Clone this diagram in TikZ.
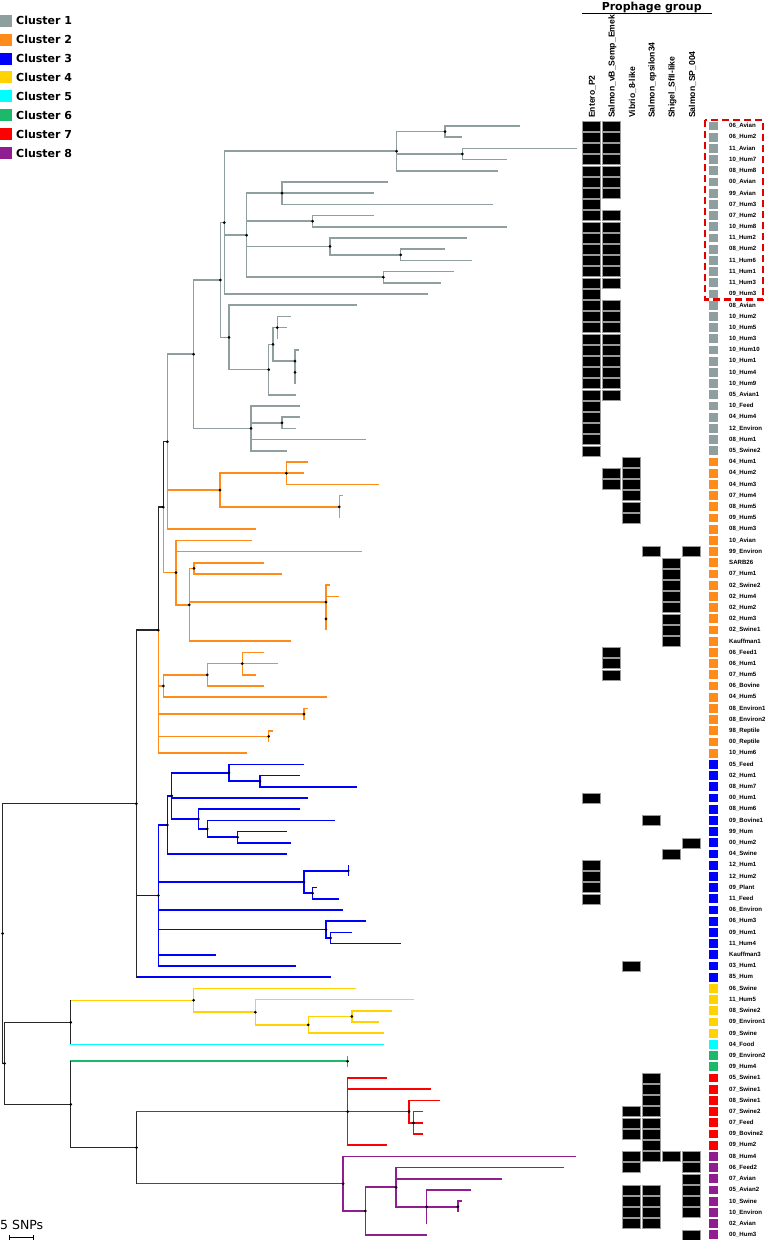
\documentclass[tikz,border=0pt]{standalone}
\usepackage{fontspec}
\setmainfont{Liberation Sans}
\newfontfamily\dejavu{DejaVu Sans}
\usepackage{tikz}

\definecolor{clgrey}{RGB}{143,158,158}
\definecolor{clorange}{RGB}{255,140,26}
\definecolor{clblue}{RGB}{0,0,255}
\definecolor{clyellow}{RGB}{255,210,0}
\definecolor{clcyan}{RGB}{0,255,255}
\definecolor{clgreen}{RGB}{29,185,107}
\definecolor{clred}{RGB}{255,0,0}
\definecolor{clpurple}{RGB}{145,30,145}
\definecolor{backbone}{RGB}{40,40,40}

\begin{document}
\begin{tikzpicture}[x=1pt, y=-1pt,
    branch/.style={line width=1.5pt},
    leaflab/.style={anchor=west, inner sep=0pt, font=\bfseries\fontsize{6.1}{6.1}\selectfont},
    clsq/.style={minimum size=8.7pt, inner sep=0pt},
    hit/.style={fill=black, draw=black!40, line width=0.3pt, minimum width=18pt, minimum height=10pt, inner sep=0pt},
    colhead/.style={rotate=90, anchor=west, inner sep=0pt, font=\bfseries\fontsize{8.6}{8.6}\selectfont}]
\useasboundingbox (0,0) rectangle (765,1240);

% Legend
\foreach \i/\cl in {1/clgrey,2/clorange,3/clblue,4/clyellow,5/clcyan,6/clgreen,7/clred,8/clpurple} {
    \node[fill=\cl, minimum size=12pt, inner sep=0pt] (key\i) at (6,{20.7+18.9*(\i-1)}) {};
    \node[anchor=west, inner sep=0pt, font=\dejavu\bfseries\fontsize{11}{11}\selectfont] (keytxt\i) at (16,{20.7+18.9*(\i-1)}) {Cluster \i};
}

% Header
\node[anchor=base, inner sep=0pt, font=\dejavu\bfseries\fontsize{11}{11}\selectfont] (prophage) at (651.7,10.3) {Prophage group};
\coordinate (rule1) at (581.7,13.3);
\coordinate (rule2) at (711.7,13.3);
\draw[line width=1.2pt] (rule1) -- (rule2);
\foreach \k/\lab in {1/Entero\_P2,2/Salmon\_vB\_Semp\_Emek,3/Vibrio\_8-like,4/Salmon\_epsilon34,5/Shigel\_SfII-like,6/Salmon\_SP\_004}
    \node[colhead] (head\k) at ({592.5+20*(\k-1)},118) {\lab};

% Highlighted isolates
\draw[red!90!black, line width=2.2pt, dash pattern=on 7pt off 4pt] (705,120) rectangle (763,299.5);

% Scale bar
\node[anchor=base west, inner sep=0pt, font=\dejavu\fontsize{12.5}{12.5}\selectfont] (snp) at (0,1229.3) {5 SNPs};
\coordinate (sb1) at (9.3,1237.3);
\coordinate (sb2) at (33.3,1237.3);
\draw[line width=1.1pt] (sb1) -- (sb2);
\draw[line width=1.1pt] (sb1) ++(0,-2.5) -- ++(0,5);
\draw[line width=1.1pt] (sb2) ++(0,-2.5) -- ++(0,5);

\begin{scope}[y=-11.2pt, yshift=-114.8pt]
    % Leaves: tips, cluster squares, labels
    \foreach \cl/\list in {
        clgrey/{1/520/06\_Avian,2/462.3/06\_Hum2,3/576.7/11\_Avian,4/506.7/10\_Hum7,5/498.3/08\_Hum8,6/387.7/00\_Avian,7/374.3/99\_Avian,8/493.3/07\_Hum3,9/374.3/07\_Hum2,10/506.7/10\_Hum8,11/467.3/11\_Hum2,12/445/08\_Hum2,13/471.7/11\_Hum6,14/454/11\_Hum1,15/440.7/11\_Hum3,16/427.7/09\_Hum3,17/356.7/08\_Avian,18/291/10\_Hum2,19/286.7/10\_Hum5,20/277.3/10\_Hum3,21/299.3/10\_Hum10,22/295/10\_Hum1,23/295/10\_Hum4,24/295/10\_Hum9,25/295.7/05\_Avian1,26/300/10\_Feed,27/300/04\_Hum4,28/295.7/12\_Environ,29/366/08\_Hum1,30/286.7/05\_Swine2},
        clorange/{31/308.3/04\_Hum1,32/304/04\_Hum2,33/379/04\_Hum3,34/343.3/07\_Hum4,35/339.3/08\_Hum5,36/339.3/09\_Hum5,37/255.7/08\_Hum3,38/251.7/10\_Avian,39/361.7/99\_Environ,40/264.3/SARB26,41/282.3/07\_Hum1,42/330/02\_Swine2,43/339.3/02\_Hum4,44/326/02\_Hum2,45/326/02\_Hum3,46/326/02\_Swine1,47/291/Kauffman1,48/264.3/06\_Feed1,49/277.7/06\_Hum1,50/255.7/07\_Hum5,51/264.3/06\_Bovine,52/326.7/04\_Hum5,53/308.3/08\_Environ1,54/304/08\_Environ2,55/272.7/98\_Reptile,56/268.7/00\_Reptile,57/247.3/10\_Hum6},
        clblue/{58/304/05\_Feed,59/300/02\_Hum1,60/356.7/08\_Hum7,61/308.3/00\_Hum1,62/300/08\_Hum6,63/335/09\_Bovine1,64/286.7/99\_Hum,65/291/00\_Hum2,66/286.7/04\_Swine,67/348.3/12\_Hum1,68/348.3/12\_Hum2,69/316.7/09\_Plant,70/339.3/11\_Feed,71/343.3/06\_Environ,72/365.7/06\_Hum3,73/352.3/09\_Hum1,74/401/11\_Hum4,75/216/Kauffman3,76/295.7/03\_Hum1,77/330.7/85\_Hum},
        clyellow/{78/356.4/06\_Swine,79/413.5/11\_Hum5,80/391.7/08\_Swine2,81/378.6/09\_Environ1,82/383.5/09\_Swine},
        clcyan/{83/383.5/04\_Food},
        clgreen/{84/347.7/09\_Environ2,85/347.7/09\_Hum4},
        clred/{86/387.2/05\_Swine1,87/431.2/07\_Swine1,88/439.8/08\_Swine1,89/423/07\_Swine2,90/423/07\_Feed,91/423/09\_Bovine2,92/387.2/09\_Hum2},
        clpurple/{93/576.3/08\_Hum4,94/563.9/06\_Feed2,95/501.9/07\_Avian,96/470.7/05\_Avian2,97/461.7/10\_Swine,98/457.9/10\_Environ,99/426.7/02\_Avian,100/426.7/00\_Hum3}}
        \foreach \r/\tip/\lab in \list {
            \coordinate (l\r) at (\tip,\r);
            \node[clsq, fill=\cl] (sq\r) at (713.7,\r) {};
            \node[leaflab] (lab\r) at (729,\r) {\lab};
        }

    % Prophage matrix
    \foreach \k/\rows in {1/{1,...,30,61,67,68,69,70}, 2/{1,2,...,7,9,10,...,15,17,18,...,25,32,33,48,49,50},
        3/{31,32,...,36,76,89,90,91,93,94,96,97,98,99}, 4/{39,63,86,87,...,93,96,97,98,99},
        5/{40,41,...,47,66,93}, 6/{39,65,93,94,...,98,100}}
        \foreach \r in \rows
            \node[hit] (m\k-\r) at ({591+20*(\k-1)},\r) {};

    % Internal nodes
    \coordinate (g1) at (445,1.5);      \coordinate (g2) at (462.3,3.5);
    \coordinate (g3) at (396.7,3.25);   \coordinate (g4) at (282,7);
    \coordinate (g5) at (312.7,9.5);    \coordinate (g6) at (400.7,12.5);
    \coordinate (g7) at (330,11.75);    \coordinate (g8) at (383.3,14.5);
    \coordinate (g9) at (246.7,10.75);  \coordinate (g10) at (224.3,9.625);
    \coordinate (g11) at (277.3,19);    \coordinate (g12) at (295,23);
    \coordinate (g13) at (295,22);      \coordinate (g14) at (273,20.5);
    \coordinate (g15) at (268.7,22.75); \coordinate (g16) at (229,19.875);
    \coordinate (g17) at (220.3,14.75); \coordinate (g18) at (282,27.5);
    \coordinate (g19) at (251,28);      \coordinate (g20) at (193.7,21.375);
    \coordinate (o1) at (286.3,32);     \coordinate (o2) at (339.3,35);
    \coordinate (o3) at (220,33.5);     \coordinate (o4) at (167.3,29.1875);
    \coordinate (o5) at (194,40.5);     \coordinate (o6) at (326,45);
    \coordinate (o7) at (326,43.5);     \coordinate (o8) at (189.3,43.75);
    \coordinate (o9) at (176,40.875);   \coordinate (o10) at (163.3,35.031);
    \coordinate (o11) at (242.3,49);    \coordinate (o12) at (207.3,50);
    \coordinate (o13) at (163.3,51);    \coordinate (o14) at (304,53.5);
    \coordinate (o15) at (268.7,55.5);  \coordinate (o16) at (158.3,46.016);
    \coordinate (b1) at (260,59.5);     \coordinate (b2) at (229,58.75);
    \coordinate (b3) at (237.7,64.5);   \coordinate (b4) at (207.3,63.75);
    \coordinate (b5) at (198.3,62.875); \coordinate (b6) at (171.7,60.8125);
    \coordinate (b7) at (167.3,63.406); \coordinate (b8) at (348.3,67.5);
    \coordinate (b9) at (312.7,69.5);   \coordinate (b10) at (304,68.5);
    \coordinate (b11) at (330.7,73.5);  \coordinate (b12) at (326,72.75);
    \coordinate (b13) at (158.3,69.703);\coordinate (z) at (136.3,61.508);
    \coordinate (y1) at (351.9,80.5);   \coordinate (y2) at (308.3,81.25);
    \coordinate (y3) at (255.3,80.125); \coordinate (y4) at (193.6,79.0625);
    \coordinate (k45) at (70.7,81.031); \coordinate (v1) at (347.7,84.5);
    \coordinate (r1) at (413.5,90);     \coordinate (r2) at (409,89);
    \coordinate (r3) at (347.7,89);     \coordinate (p1) at (457.9,97.5);
    \coordinate (p2) at (426.7,97.5);   \coordinate (p3) at (396.2,95.75);
    \coordinate (p4) at (365.4,97.875); \coordinate (p5) at (343.2,95.4375);
    \coordinate (k78) at (136.5,92.219);\coordinate (k678) at (70.7,88.359);
    \coordinate (k48) at (4.5,84.695);  \coordinate (root) at (2.6,73.102);

    % Branches
    \foreach \cl/\list in {
        backbone/{root/z,root/k48,k48/k45,k48/k678,k678/k78,z/o16,o16/o10,o10/o4},
        clgrey/{g1/l1,g1/l2,g2/l3,g2/l4,g3/g1,g3/g2,g3/l5,g4/l6,g4/l7,g4/l8,g5/l9,g5/l10,g6/l12,g6/l13,g7/l11,g7/g6,g8/l14,g8/l15,g9/g4,g9/g5,g9/g7,g9/g8,g10/g3,g10/g9,g10/l16,g11/l18,g11/l19,g11/l20,g12/l22,g12/l23,g12/l24,g13/l21,g13/g12,g14/g11,g14/g13,g15/g14,g15/l25,g16/l17,g16/g15,g17/g10,g17/g16,g18/l27,g18/l28,g19/l26,g19/g18,g19/l29,g19/l30,g20/g17,g20/g19,o4/g20},
        clorange/{o1/l31,o1/l32,o1/l33,o2/l34,o2/l35,o2/l36,o3/o1,o3/o2,o4/o3,o4/l37,o5/l40,o5/l41,o6/l44,o6/l45,o6/l46,o7/l42,o7/l43,o7/o6,o8/o5,o8/o7,o8/l47,o9/l38,o9/l39,o9/o8,o10/o9,o11/l48,o11/l49,o11/l50,o12/o11,o12/l51,o13/o12,o13/l52,o14/l53,o14/l54,o15/l55,o15/l56,o16/o13,o16/o14,o16/o15,o16/l57},
        clblue/{b1/l59,b1/l60,b2/l58,b2/b1,b3/l64,b3/l65,b4/l63,b4/b3,b5/l62,b5/b4,b6/b2,b6/l61,b6/b5,b7/b6,b7/l66,b8/l67,b8/l68,b9/l69,b9/l70,b10/b8,b10/b9,b11/l73,b11/l74,b12/l72,b12/b11,b13/b7,b13/b10,b13/l71,b13/b12,b13/l75,b13/l76,z/b13,z/l77},
        clyellow/{y1/l80,y1/l81,y2/y1,y2/l82,y3/l79,y3/y2,y4/l78,y4/y3,k45/y4},
        clcyan/{k45/l83},
        clgreen/{v1/l84,v1/l85,k678/v1},
        clred/{r1/l89,r1/l90,r1/l91,r2/l88,r2/r1,r3/l86,r3/l87,r3/r2,r3/l92,k78/r3},
        clpurple/{p1/l97,p1/l98,p2/l96,p2/p1,p2/l99,p3/l94,p3/l95,p3/p2,p4/p3,p4/l100,p5/l93,p5/p4,k78/p5}}
        \foreach \p/\c in \list
            \draw[branch, \cl] (\p) |- (\c);
    \foreach \n/\a/\b in {z/o16/l77,k45/y4/l83,k678/v1/k78,k78/r3/p5}
        \draw[branch, backbone] (\n |- \a) -- (\n |- \b);

    % Node dots
    \foreach \pre/\num in {g/20,o/16,b/13,y/4,r/3,p/5}
        \foreach \i in {1,...,\num}
            \fill (\pre\i) circle (1.5pt);
    \foreach \n in {z,k45,k48,k678,k78,v1,root}
        \fill (\n) circle (1.5pt);
\end{scope}
\end{tikzpicture}
\end{document}
